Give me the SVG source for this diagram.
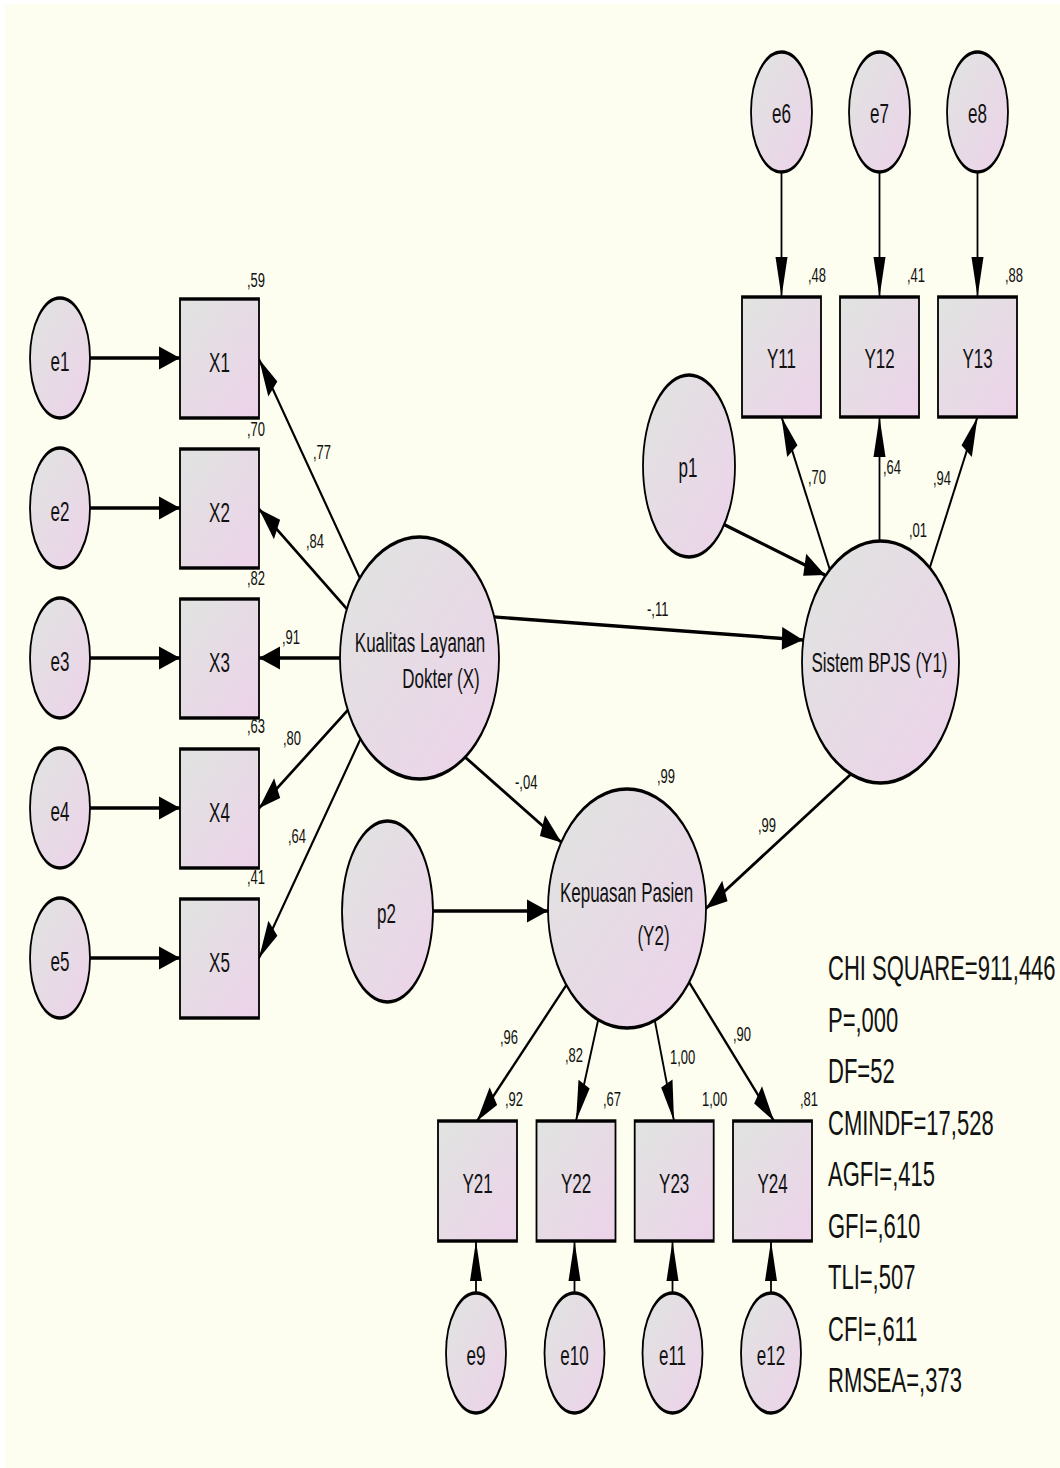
<svg xmlns="http://www.w3.org/2000/svg" width="1060" height="1468" viewBox="0 0 1060 1468">
<defs>
<linearGradient id="g" x1="0" y1="0" x2="1" y2="1">
<stop offset="0" stop-color="#E0E4E0"/>
<stop offset="1" stop-color="#EDD2EA"/>
</linearGradient>
<marker id="ah" markerUnits="userSpaceOnUse" markerWidth="22" markerHeight="12" refX="21" refY="6" orient="auto" overflow="visible">
<path d="M0,0 L21,6 L0,12 z" fill="#000"/>
</marker>
<style>
.n{fill:url(#g);stroke:#000;stroke-width:1.8}
.c line{stroke:#000;stroke-width:1.8;marker-end:url(#ah)}
text{font-family:"Liberation Sans",Arial,sans-serif;fill:#111}
.lb{font-size:17px;text-anchor:middle}
.sm{font-size:13px}
.st{font-size:22px}
</style>
</defs>
<rect width="1060" height="1468" fill="#fff"/>
<rect x="5" y="4" width="1055" height="1464" fill="#FDFEEF"/>

<g id="connectors" class="c" transform="scale(1,1.9)">
<line x1="88" y1="188.42" x2="180" y2="188.42"/>
<line x1="88" y1="267.37" x2="180" y2="267.37"/>
<line x1="88" y1="346.32" x2="180" y2="346.32"/>
<line x1="88" y1="425.26" x2="180" y2="425.26"/>
<line x1="88" y1="504.21" x2="180" y2="504.21"/>
<line x1="363" y1="307.89" x2="259" y2="188.95"/>
<line x1="352" y1="323.53" x2="259" y2="267.89"/>
<line x1="344" y1="346.32" x2="259" y2="346.32"/>
<line x1="352" y1="371.32" x2="259" y2="425.4"/>
<line x1="364" y1="384.95" x2="259" y2="504.3"/>
<line x1="490" y1="324.53" x2="803" y2="336.84"/>
<line x1="460" y1="396.11" x2="561.5" y2="443.42"/>
<line x1="720" y1="275.0" x2="825" y2="302.63"/>
<line x1="833" y1="305.05" x2="781.5" y2="219.47"/>
<line x1="879.5" y1="287.37" x2="879.5" y2="219.47"/>
<line x1="926" y1="305.05" x2="977.5" y2="219.47"/>
<line x1="853" y1="406.47" x2="706" y2="478.16"/>
<line x1="430" y1="479.47" x2="548" y2="479.47"/>
<line x1="570" y1="515.53" x2="477" y2="590"/>
<line x1="600" y1="532.42" x2="576" y2="590"/>
<line x1="653" y1="532.11" x2="674" y2="590"/>
<line x1="685" y1="513.42" x2="774" y2="590"/>
<line x1="781.5" y1="89.47" x2="781.5" y2="156.32"/>
<line x1="879.5" y1="89.47" x2="879.5" y2="156.32"/>
<line x1="977.5" y1="89.47" x2="977.5" y2="156.32"/>
<line x1="476" y1="682.11" x2="476" y2="653.2"/>
<line x1="574.5" y1="682.11" x2="574.5" y2="653.2"/>
<line x1="672.5" y1="682.11" x2="672.5" y2="653.2"/>
<line x1="771" y1="682.11" x2="771" y2="653.2"/>
</g>

<g id="e1" transform="translate(60,358)"><ellipse class="n" rx="30" ry="31.58" transform="scale(1,1.9)"/><text class="lb" transform="translate(0,13) scale(1,1.6)">e1</text></g>
<g id="e2" transform="translate(60,508)"><ellipse class="n" rx="30" ry="31.58" transform="scale(1,1.9)"/><text class="lb" transform="translate(0,13) scale(1,1.6)">e2</text></g>
<g id="e3" transform="translate(60,658)"><ellipse class="n" rx="30" ry="31.58" transform="scale(1,1.9)"/><text class="lb" transform="translate(0,13) scale(1,1.6)">e3</text></g>
<g id="e4" transform="translate(60,808)"><ellipse class="n" rx="30" ry="31.58" transform="scale(1,1.9)"/><text class="lb" transform="translate(0,13) scale(1,1.6)">e4</text></g>
<g id="e5" transform="translate(60,958)"><ellipse class="n" rx="30" ry="31.58" transform="scale(1,1.9)"/><text class="lb" transform="translate(0,13) scale(1,1.6)">e5</text></g>

<g id="X1" transform="translate(219.5,358.5)"><rect class="n" x="-39.5" y="-31.32" width="79" height="62.63" transform="scale(1,1.9)"/><text class="lb" transform="translate(0,13) scale(1,1.6)">X1</text></g>
<g id="X2" transform="translate(219.5,508.5)"><rect class="n" x="-39.5" y="-31.32" width="79" height="62.63" transform="scale(1,1.9)"/><text class="lb" transform="translate(0,13) scale(1,1.6)">X2</text></g>
<g id="X3" transform="translate(219.5,658.5)"><rect class="n" x="-39.5" y="-31.32" width="79" height="62.63" transform="scale(1,1.9)"/><text class="lb" transform="translate(0,13) scale(1,1.6)">X3</text></g>
<g id="X4" transform="translate(219.5,808.5)"><rect class="n" x="-39.5" y="-31.32" width="79" height="62.63" transform="scale(1,1.9)"/><text class="lb" transform="translate(0,13) scale(1,1.6)">X4</text></g>
<g id="X5" transform="translate(219.5,958.5)"><rect class="n" x="-39.5" y="-31.32" width="79" height="62.63" transform="scale(1,1.9)"/><text class="lb" transform="translate(0,13) scale(1,1.6)">X5</text></g>

<g id="e6" transform="translate(781.5,112)"><ellipse class="n" rx="30.5" ry="31.58" transform="scale(1,1.9)"/><text class="lb" transform="translate(0,10.5) scale(1,1.6)">e6</text></g>
<g id="e7" transform="translate(879.5,112)"><ellipse class="n" rx="30.5" ry="31.58" transform="scale(1,1.9)"/><text class="lb" transform="translate(0,10.5) scale(1,1.6)">e7</text></g>
<g id="e8" transform="translate(977.5,112)"><ellipse class="n" rx="30.5" ry="31.58" transform="scale(1,1.9)"/><text class="lb" transform="translate(0,10.5) scale(1,1.6)">e8</text></g>

<g id="Y11" transform="translate(781.5,357)"><rect class="n" x="-39.5" y="-31.58" width="79" height="63.16" transform="scale(1,1.9)"/><text class="lb" transform="translate(0,10.5) scale(1,1.6)">Y11</text></g>
<g id="Y12" transform="translate(879.5,357)"><rect class="n" x="-39.5" y="-31.58" width="79" height="63.16" transform="scale(1,1.9)"/><text class="lb" transform="translate(0,10.5) scale(1,1.6)">Y12</text></g>
<g id="Y13" transform="translate(977.5,357)"><rect class="n" x="-39.5" y="-31.58" width="79" height="63.16" transform="scale(1,1.9)"/><text class="lb" transform="translate(0,10.5) scale(1,1.6)">Y13</text></g>

<g id="p1" transform="translate(689,466)"><ellipse class="n" rx="46" ry="47.89" transform="scale(1,1.9)"/><text class="lb" transform="translate(-1,10.7) scale(1,1.6)">p1</text></g>
<g id="p2" transform="translate(387.5,911.5)"><ellipse class="n" rx="45.5" ry="47.63" transform="scale(1,1.9)"/><text class="lb" transform="translate(-1,11.5) scale(1,1.6)">p2</text></g>

<g id="X" transform="translate(419.5,658)"><ellipse class="n" rx="79.5" ry="63.68" transform="scale(1,1.9)"/><text class="lb" transform="translate(0.5,-6) scale(1,1.6)">Kualitas Layanan</text><text class="lb" transform="translate(21.5,30) scale(1,1.6)">Dokter (X)</text></g>
<g id="Y1" transform="translate(880.5,662)"><ellipse class="n" rx="78.5" ry="63.68" transform="scale(1,1.9)"/><text class="lb" transform="translate(-1,10) scale(1,1.6)">Sistem BPJS (Y1)</text></g>
<g id="Y2" transform="translate(627,908.5)"><ellipse class="n" rx="79" ry="62.89" transform="scale(1,1.9)"/><text class="lb" transform="translate(-0.5,-6.5) scale(1,1.6)">Kepuasan Pasien</text><text class="lb" transform="translate(26.5,36.5) scale(1,1.6)">(Y2)</text></g>

<g id="Y21" transform="translate(477.5,1181)"><rect class="n" x="-39.5" y="-31.58" width="79" height="63.16" transform="scale(1,1.9)"/><text class="lb" transform="translate(0,12) scale(1,1.6)">Y21</text></g>
<g id="Y22" transform="translate(576,1181)"><rect class="n" x="-39.5" y="-31.58" width="79" height="63.16" transform="scale(1,1.9)"/><text class="lb" transform="translate(0,12) scale(1,1.6)">Y22</text></g>
<g id="Y23" transform="translate(674.2,1181)"><rect class="n" x="-39.5" y="-31.58" width="79" height="63.16" transform="scale(1,1.9)"/><text class="lb" transform="translate(0,12) scale(1,1.6)">Y23</text></g>
<g id="Y24" transform="translate(772.5,1181)"><rect class="n" x="-39.5" y="-31.58" width="79" height="63.16" transform="scale(1,1.9)"/><text class="lb" transform="translate(0,12) scale(1,1.6)">Y24</text></g>

<g id="e9" transform="translate(476,1353)"><ellipse class="n" rx="30" ry="31.58" transform="scale(1,1.9)"/><text class="lb" transform="translate(0,12) scale(1,1.6)">e9</text></g>
<g id="e10" transform="translate(574.5,1353)"><ellipse class="n" rx="30" ry="31.58" transform="scale(1,1.9)"/><text class="lb" transform="translate(0,12) scale(1,1.6)">e10</text></g>
<g id="e11" transform="translate(672.5,1353)"><ellipse class="n" rx="30" ry="31.58" transform="scale(1,1.9)"/><text class="lb" transform="translate(0,12) scale(1,1.6)">e11</text></g>
<g id="e12" transform="translate(771,1353)"><ellipse class="n" rx="30" ry="31.58" transform="scale(1,1.9)"/><text class="lb" transform="translate(0,12) scale(1,1.6)">e12</text></g>

<g id="labels" class="sm">
<text class="sm" transform="translate(247,287) scale(1,1.6)">,59</text>
<text class="sm" transform="translate(247,436) scale(1,1.6)">,70</text>
<text class="sm" transform="translate(247,585) scale(1,1.6)">,82</text>
<text class="sm" transform="translate(247,733) scale(1,1.6)">,63</text>
<text class="sm" transform="translate(247,884) scale(1,1.6)">,41</text>
<text class="sm" transform="translate(313,459) scale(1,1.6)">,77</text>
<text class="sm" transform="translate(306,548) scale(1,1.6)">,84</text>
<text class="sm" transform="translate(282,644) scale(1,1.6)">,91</text>
<text class="sm" transform="translate(283,745) scale(1,1.6)">,80</text>
<text class="sm" transform="translate(288,843) scale(1,1.6)">,64</text>
<text class="sm" transform="translate(808,282) scale(1,1.6)">,48</text>
<text class="sm" transform="translate(907,282) scale(1,1.6)">,41</text>
<text class="sm" transform="translate(1005,282) scale(1,1.6)">,88</text>
<text class="sm" transform="translate(808,484) scale(1,1.6)">,70</text>
<text class="sm" transform="translate(883,474) scale(1,1.6)">,64</text>
<text class="sm" transform="translate(933,485) scale(1,1.6)">,94</text>
<text class="sm" transform="translate(909,537) scale(1,1.6)">,01</text>
<text class="sm" transform="translate(647,616) scale(1,1.6)">-,11</text>
<text class="sm" transform="translate(515,789) scale(1,1.6)">-,04</text>
<text class="sm" transform="translate(657,783) scale(1,1.6)">,99</text>
<text class="sm" transform="translate(758,832) scale(1,1.6)">,99</text>
<text class="sm" transform="translate(500,1044) scale(1,1.6)">,96</text>
<text class="sm" transform="translate(565,1062) scale(1,1.6)">,82</text>
<text class="sm" transform="translate(670,1064) scale(1,1.6)">1,00</text>
<text class="sm" transform="translate(733,1041) scale(1,1.6)">,90</text>
<text class="sm" transform="translate(505,1106) scale(1,1.6)">,92</text>
<text class="sm" transform="translate(603,1106) scale(1,1.6)">,67</text>
<text class="sm" transform="translate(702,1106) scale(1,1.6)">1,00</text>
<text class="sm" transform="translate(800,1106) scale(1,1.6)">,81</text>
</g>

<g id="fit" class="st">
<text class="st" transform="translate(828,980) scale(1,1.6)">CHI SQUARE=911,446</text>
<text class="st" transform="translate(828,1031.5) scale(1,1.6)">P=,000</text>
<text class="st" transform="translate(828,1083) scale(1,1.6)">DF=52</text>
<text class="st" transform="translate(828,1134.5) scale(1,1.6)">CMINDF=17,528</text>
<text class="st" transform="translate(828,1186) scale(1,1.6)">AGFI=,415</text>
<text class="st" transform="translate(828,1237.5) scale(1,1.6)">GFI=,610</text>
<text class="st" transform="translate(828,1289) scale(1,1.6)">TLI=,507</text>
<text class="st" transform="translate(828,1340.5) scale(1,1.6)">CFI=,611</text>
<text class="st" transform="translate(828,1392) scale(1,1.6)">RMSEA=,373</text>
</g>
</svg>
